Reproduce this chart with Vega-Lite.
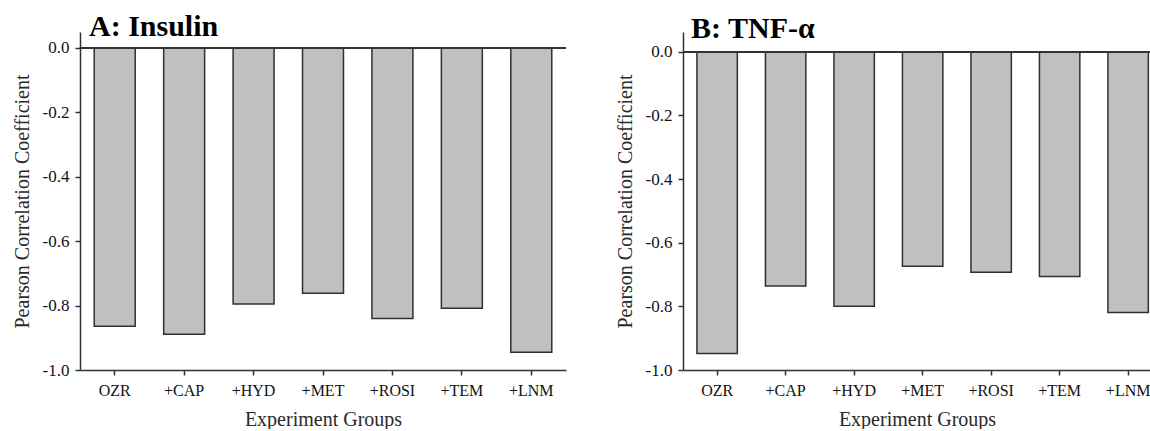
{
  "$schema": "https://vega.github.io/schema/vega-lite/v6.json",
  "background": "white",
  "padding": {"left": 12, "right": 0, "top": 12, "bottom": 0},
  "spacing": 48,
  "datasets": {
    "corr": [
      {"panel": "Insulin", "group": "OZR", "r": -0.864},
      {"panel": "Insulin", "group": "+CAP", "r": -0.889},
      {"panel": "Insulin", "group": "+HYD", "r": -0.795},
      {"panel": "Insulin", "group": "+MET", "r": -0.762},
      {"panel": "Insulin", "group": "+ROSI", "r": -0.840},
      {"panel": "Insulin", "group": "+TEM", "r": -0.808},
      {"panel": "Insulin", "group": "+LNM", "r": -0.945},
      {"panel": "TNF", "group": "OZR", "r": -0.948},
      {"panel": "TNF", "group": "+CAP", "r": -0.736},
      {"panel": "TNF", "group": "+HYD", "r": -0.800},
      {"panel": "TNF", "group": "+MET", "r": -0.674},
      {"panel": "TNF", "group": "+ROSI", "r": -0.693},
      {"panel": "TNF", "group": "+TEM", "r": -0.706},
      {"panel": "TNF", "group": "+LNM", "r": -0.819}
    ]
  },
  "config": {
    "view": {"stroke": null},
    "font": "Liberation Serif",
    "axis": {
      "labelFont": "Liberation Serif",
      "titleFont": "Liberation Serif",
      "grid": false,
      "domainColor": "#333333",
      "domainWidth": 1.5,
      "tickColor": "#333333",
      "tickWidth": 1.5,
      "tickSize": 5,
      "labelColor": "#111111",
      "titleColor": "#2a2a2a",
      "labelFontSize": 17,
      "titleFontSize": 20,
      "titleFontWeight": "normal"
    },
    "axisX": {"labelFontSize": 16},
    "title": {
      "font": "Liberation Serif",
      "fontSize": 30,
      "fontWeight": "bold",
      "anchor": "start",
      "frame": "group",
      "color": "#000000",
      "baseline": "alphabetic"
    }
  },
  "hconcat": [
    {
      "width": 486,
      "height": 338,
      "title": {"text": "A: Insulin", "dx": 9, "offset": -10},
      "data": {"name": "corr"},
      "transform": [{"filter": "datum.panel == 'Insulin'"}],
      "layer": [
        {
          "mark": {"type": "bar", "fill": "#c0c0c0", "stroke": "#303030", "strokeWidth": 1.5},
          "encoding": {
            "x": {
              "field": "group", "type": "nominal", "sort": null,
              "scale": {"paddingInner": 0.41, "paddingOuter": 0.205},
              "axis": {"title": "Experiment Groups", "labelAngle": 0, "labelPadding": 7, "titlePadding": 11}
            },
            "y": {
              "field": "r", "type": "quantitative",
              "scale": {"domain": [-1, 0.049], "nice": false},
              "axis": {
                "title": "Pearson Correlation Coefficient",
                "values": [-1, -0.8, -0.6, -0.4, -0.2, 0],
                "labelExpr": "datum.value == 0 ? '0.0' : '-' + format(-datum.value, '.1f')",
                "labelPadding": 6,
                "titlePadding": 10
              }
            }
          }
        },
        {
          "mark": {"type": "rule", "color": "#333333", "strokeWidth": 1.5},
          "encoding": {"y": {"datum": 0, "type": "quantitative"}}
        }
      ]
    },
    {
      "width": 468,
      "height": 338,
      "title": {"text": "B: TNF-α", "dx": 8, "offset": -12},
      "data": {"name": "corr"},
      "transform": [{"filter": "datum.panel == 'TNF'"}],
      "layer": [
        {
          "mark": {"type": "bar", "fill": "#c0c0c0", "stroke": "#303030", "strokeWidth": 1.5},
          "encoding": {
            "x": {
              "field": "group", "type": "nominal", "sort": null,
              "scale": {"paddingInner": 0.41, "paddingOuter": 0.121, "align": 0.84},
              "axis": {"title": "Experiment Groups", "labelAngle": 0, "labelPadding": 7, "titlePadding": 11}
            },
            "y": {
              "field": "r", "type": "quantitative",
              "scale": {"domain": [-1, 0.062], "nice": false},
              "axis": {
                "title": "Pearson Correlation Coefficient",
                "values": [-1, -0.8, -0.6, -0.4, -0.2, 0],
                "labelExpr": "datum.value == 0 ? '0.0' : '-' + format(-datum.value, '.1f')",
                "labelPadding": 6,
                "titlePadding": 10
              }
            }
          }
        },
        {
          "mark": {"type": "rule", "color": "#333333", "strokeWidth": 1.5},
          "encoding": {"y": {"datum": 0, "type": "quantitative"}}
        }
      ]
    }
  ]
}
